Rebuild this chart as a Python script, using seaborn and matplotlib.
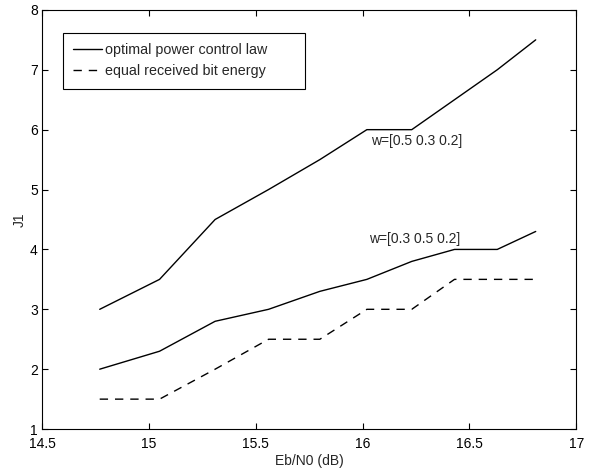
import numpy as np
import pandas as pd
import seaborn as sns
import matplotlib.pyplot as plt

# Eb/N0 (dB) sample points
ebn0 = [14.77, 15.05, 15.31, 15.56, 15.80, 16.02, 16.23, 16.43, 16.63, 16.81]
# optimal power control law, w=[0.5 0.3 0.2]
opt_w1 = [3.0, 3.5, 4.5, 5.0, 5.5, 6.0, 6.0, 6.5, 7.0, 7.5]
# optimal power control law, w=[0.3 0.5 0.2]
opt_w2 = [2.0, 2.3, 2.8, 3.0, 3.3, 3.5, 3.8, 4.0, 4.0, 4.3]
# equal received bit energy
equal_energy = [1.5, 1.5, 2.0, 2.5, 2.5, 3.0, 3.0, 3.5, 3.5, 3.5]

legend_labels = ["optimal power control law", "equal received bit energy"]
curve_labels = ["w=[0.5 0.3 0.2]", "w=[0.3 0.5 0.2]"]

sns.set_theme(style="ticks")
plt.rcParams['font.family'] = ['Liberation Sans', 'DejaVu Sans']

fig = plt.figure(figsize=(5.95, 4.71), dpi=100)
ax = fig.add_axes([0.0706, 0.089, 0.898, 0.890])

sns.lineplot(x=ebn0, y=opt_w1, color='black', lw=1.0, ax=ax)
sns.lineplot(x=ebn0, y=opt_w2, color='black', lw=1.0, ax=ax)
sns.lineplot(x=ebn0, y=equal_energy, color='black', lw=1.0, ax=ax,
             linestyle=(0, (6, 5)))
lines = ax.get_lines()
leg = ax.legend([lines[0], lines[2]], legend_labels, loc='upper left',
                bbox_to_anchor=(0.039, 0.804, 0.453, 0.141), mode='expand',
                borderaxespad=0, fontsize=10.3, frameon=True,
                fancybox=False, edgecolor='black', framealpha=1,
                handlelength=2.0, handletextpad=0.25, borderpad=0.72,
                labelspacing=0.5)
leg.get_frame().set_linewidth(0.8)

ax.text(16.04, 5.81, curve_labels[0], fontsize=10, va='center', ha='left')
ax.text(16.03, 4.18, curve_labels[1], fontsize=10, va='center', ha='left')

ax.set_xlim(14.5, 17)
ax.set_ylim(1, 8)
ax.set_xticks([14.5, 15, 15.5, 16, 16.5, 17])
ax.set_xticklabels(['14.5', '15', '15.5', '16', '16.5', '17'])
ax.set_yticks(range(1, 9))
ax.tick_params(direction='in', top=True, right=True, length=4, width=0.8,
               labelsize=10, colors='black')
ax.tick_params(axis='x', pad=6)
ax.tick_params(axis='y', pad=3)
for s in ax.spines.values():
    s.set_visible(True)
    s.set_color('black')
    s.set_linewidth(0.8)
ax.set_xlabel("Eb/N0 (dB)", fontsize=10, labelpad=2)
ax.set_ylabel("J1", fontsize=10, labelpad=2)

fig.savefig("out.png", dpi=100)
